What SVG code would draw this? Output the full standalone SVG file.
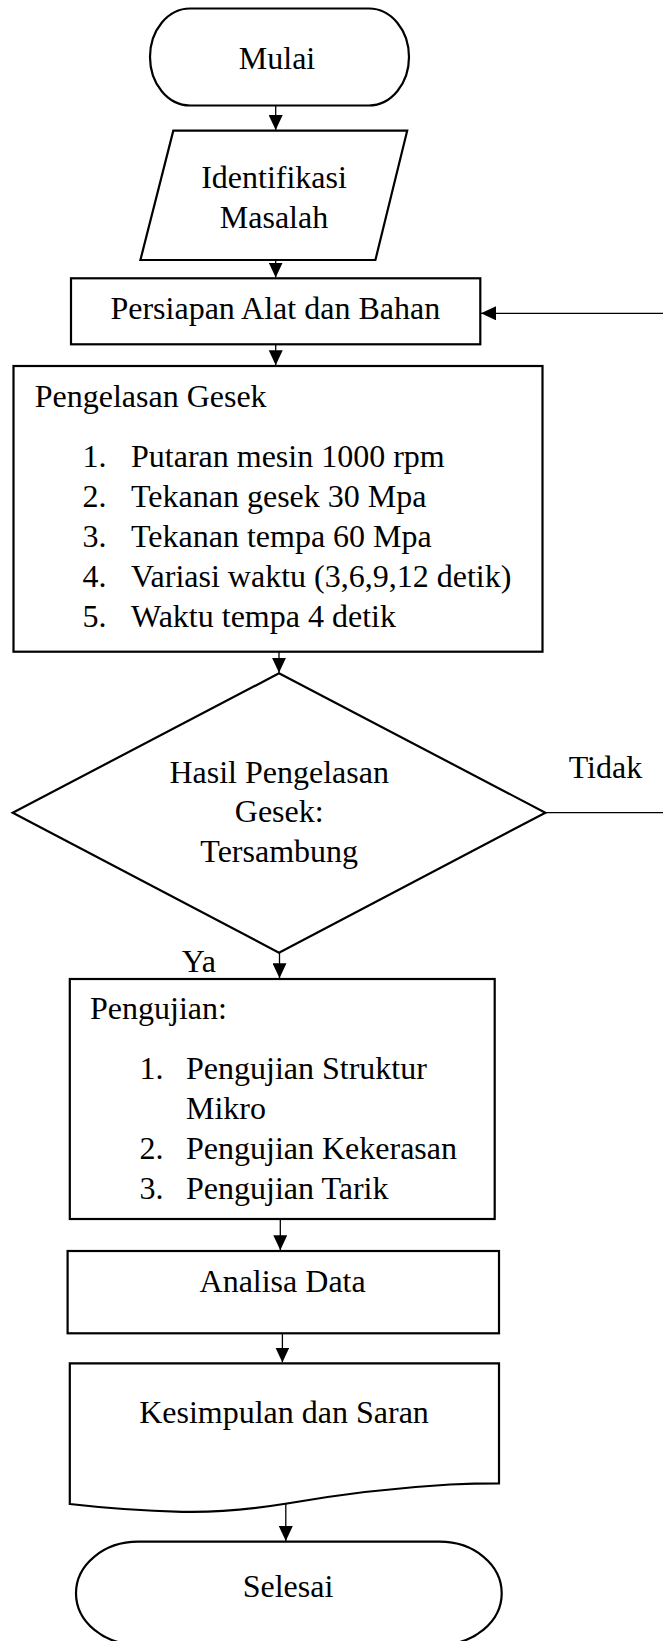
<svg xmlns="http://www.w3.org/2000/svg" width="663" height="1641" viewBox="0 0 663 1641">
<style>
  .shape { fill: #ffffff; stroke: #000000; stroke-width: 2.2; }
  .t { font-family: "Liberation Serif", "Times New Roman", serif; font-size: 32px; fill: #000000; }
  .c { text-anchor: middle; }
  .conn { fill: none; stroke: #000000; stroke-width: 1.3; }
</style>
<defs>
  <marker id="arrow" viewBox="0 0 15 14" refX="15" refY="7" markerWidth="15" markerHeight="14" markerUnits="userSpaceOnUse" orient="auto">
    <path d="M0,0 L15,7 L0,14 Z" fill="#000000"/>
  </marker>
</defs>
<rect width="663" height="1641" fill="#ffffff"/>

<g id="mulai">
  <rect class="shape" x="150" y="8.5" width="259" height="97" rx="40" ry="48.5"/>
  <text class="t c" x="277" y="68.5">Mulai</text>
</g>

<g id="identifikasi">
  <polygon class="shape" points="173.3,130.7 407.2,130.7 375.4,260 140.4,260"/>
  <text class="t c" x="274" y="188">Identifikasi</text>
  <text class="t c" x="274" y="228.3">Masalah</text>
</g>

<g id="persiapan">
  <rect class="shape" x="71" y="278.3" width="409.3" height="66"/>
  <text class="t c" x="275.3" y="319.3">Persiapan Alat dan Bahan</text>
</g>

<g id="pengelasan">
  <rect class="shape" x="13.5" y="366" width="529" height="285.7"/>
  <text class="t" x="34.7" y="406.7">Pengelasan Gesek</text>
  <text class="t" x="82.4" y="467.3">1.</text>
  <text class="t" x="131" y="467.3">Putaran mesin 1000 rpm</text>
  <text class="t" x="82.4" y="507.3">2.</text>
  <text class="t" x="131" y="507.3">Tekanan gesek 30 Mpa</text>
  <text class="t" x="82.4" y="547.3">3.</text>
  <text class="t" x="131" y="547.3">Tekanan tempa 60 Mpa</text>
  <text class="t" x="82.4" y="587.3">4.</text>
  <text class="t" x="131" y="587.3">Variasi waktu (3,6,9,12 detik)</text>
  <text class="t" x="82.4" y="626.7">5.</text>
  <text class="t" x="131" y="626.7">Waktu tempa 4 detik</text>
</g>

<g id="keputusan">
  <polygon class="shape" points="279,673.3 545.4,812.7 279,952.7 12.7,812.7"/>
  <text class="t c" x="279.2" y="782.7">Hasil Pengelasan</text>
  <text class="t c" x="279.2" y="822.3">Gesek:</text>
  <text class="t c" x="279.2" y="861.7">Tersambung</text>
</g>

<g id="pengujian">
  <rect class="shape" x="69.8" y="979" width="424.9" height="240"/>
  <text class="t" x="90" y="1019.3">Pengujian:</text>
  <text class="t" x="139.5" y="1079.3">1.</text>
  <text class="t" x="186" y="1079.3">Pengujian Struktur</text>
  <text class="t" x="186" y="1119.3">Mikro</text>
  <text class="t" x="139.5" y="1159.3">2.</text>
  <text class="t" x="186" y="1159.3">Pengujian Kekerasan</text>
  <text class="t" x="139.5" y="1199.3">3.</text>
  <text class="t" x="186" y="1199.3">Pengujian Tarik</text>
</g>

<g id="analisa">
  <rect class="shape" x="67.6" y="1251" width="431.4" height="82.3"/>
  <text class="t c" x="282.6" y="1291.7">Analisa Data</text>
</g>

<g id="kesimpulan">
  <path class="shape" d="M69.8,1363.3 H499 V1483.3 C480,1483.3 470,1483.5 450,1484.5 C390,1488 330,1496 287,1503.5 C250,1509.5 210,1512.5 182,1511.8 C130,1510.5 100,1507.5 69.8,1504 Z"/>
  <text class="t c" x="284" y="1423.3">Kesimpulan dan Saran</text>
</g>

<g id="selesai">
  <rect class="shape" x="76" y="1541.7" width="425.7" height="103" rx="62" ry="51.5"/>
  <text class="t c" x="288" y="1597">Selesai</text>
</g>

<g id="labels">
  <text class="t" x="568.7" y="778.3">Tidak</text>
  <text class="t" x="181.8" y="971.7">Ya</text>
</g>

<g id="connectors">
  <path class="conn" d="M275.7,105.5 V130" marker-end="url(#arrow)"/>
  <path class="conn" d="M275.7,260 V277.5" marker-end="url(#arrow)"/>
  <path class="conn" d="M275.7,344.3 V365.2" marker-end="url(#arrow)"/>
  <path class="conn" d="M279,651.7 V672.8" marker-end="url(#arrow)"/>
  <path class="conn" d="M279.5,952.7 V978.2" marker-end="url(#arrow)"/>
  <path class="conn" d="M280.3,1219 V1250.2" marker-end="url(#arrow)"/>
  <path class="conn" d="M282.4,1333.3 V1362.5" marker-end="url(#arrow)"/>
  <path class="conn" d="M285.8,1503 V1541" marker-end="url(#arrow)"/>
  <path class="conn" d="M545.4,812.7 H700 V313.3 H481" marker-end="url(#arrow)"/>
</g>
</svg>
